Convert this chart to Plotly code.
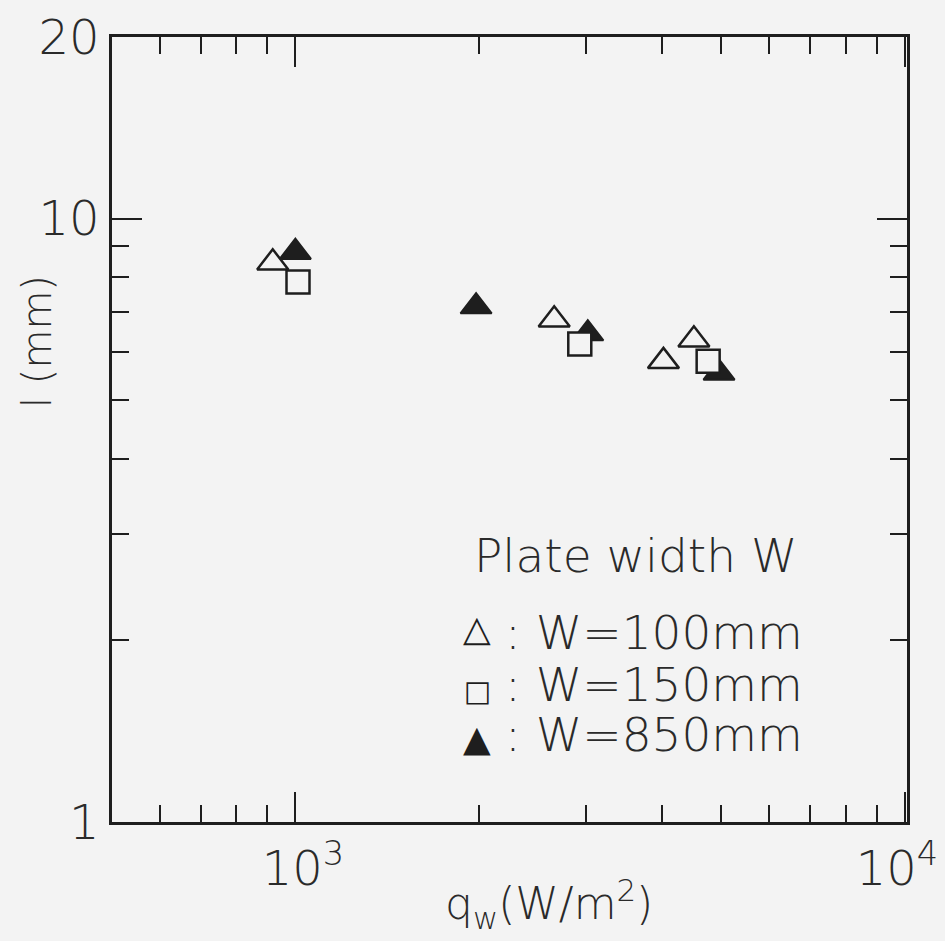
import plotly.graph_objects as go

# ---- data ----
series_names = ["W=100mm", "W=150mm", "W=850mm"]
qw_100 = [918, 2660, 4020, 4510]
l_100 = [8.45, 6.8, 5.8, 6.3]
qw_150 = [1010, 2930, 4760]
l_150 = [7.85, 6.2, 5.8]
qw_850 = [1000, 1980, 3020, 4960]
l_850 = [8.8, 7.15, 6.45, 5.55]

x_tickvals = [1000, 10000]
x_ticktext = ["&nbsp;10<sup>3</sup>", "10<sup>4</sup>&nbsp;"]
x_minor = [600, 700, 800, 900, 2000, 3000, 4000, 5000, 6000, 7000, 8000, 9000]
y_tickvals = [1, 10, 20]
y_ticktext = ["1", "10", "20"]
y_minor = [2, 3, 4, 5, 6, 7, 8, 9]
legend_title = "Plate width W"
legend_glyphs = ["△", "□", "▲"]

BG = "#f3f3f3"
INK = "#1e1e1e"
FONT = "DejaVu Sans"
WT = 200

fig = go.Figure()
fig.add_trace(go.Scatter(x=qw_850, y=l_850, mode="markers", name=series_names[2],
                         marker=dict(symbol="triangle-up", size=27, color=INK,
                                     line=dict(color=INK, width=2))))
fig.add_trace(go.Scatter(x=qw_100, y=l_100, mode="markers", name=series_names[0],
                         marker=dict(symbol="triangle-up", size=27, color=BG,
                                     line=dict(color=INK, width=2.5))))
fig.add_trace(go.Scatter(x=qw_150, y=l_150, mode="markers", name=series_names[1],
                         marker=dict(symbol="square", size=23, color=BG,
                                     line=dict(color=INK, width=2.5))))

axis_common = dict(showgrid=False, zeroline=False, showline=True, linecolor=INK,
                   linewidth=2.5, ticks="inside", tickcolor=INK, tickwidth=2,
                   mirror="ticks", ticklen=30, ticklabeloverflow="allow",
                   automargin=False,
                   tickfont=dict(family=FONT, size=48, color="#2a2a2a", weight=WT))

fig.update_xaxes(type="log", range=[2.699, 4.004], tickmode="array",
                 tickvals=x_tickvals, ticktext=x_ticktext, ticklabelstandoff=3,
                 minor=dict(tickvals=x_minor, ticks="inside", ticklen=17,
                            tickcolor=INK, tickwidth=2, showgrid=False),
                 **axis_common)
fig.update_yaxes(type="log", range=[0, 1.30103], tickmode="array",
                 tickvals=y_tickvals, ticktext=y_ticktext, ticklabelstandoff=0,
                 minor=dict(tickvals=y_minor, ticks="inside", ticklen=17,
                            tickcolor=INK, tickwidth=2, showgrid=False),
                 **axis_common)

L, R, T, B = 112, 38, 37, 119
W, H = 945, 941
pw, ph = W - L - R, H - T - B

def px(x):
    return (x - L) / pw

def py(y):
    return (H - B - y) / ph

txt = dict(family=FONT, color="#2a2a2a", weight=WT)
ann = []
ann.append(dict(text="q<sub>w</sub>(W/m<sup>2</sup>)", x=px(549), y=py(904),
                xref="paper", yref="paper", showarrow=False,
                xanchor="center", yanchor="middle", font=dict(size=44, **txt)))
ann.append(dict(text="l (mm)", x=px(37), y=py(342), textangle=-90,
                xref="paper", yref="paper", showarrow=False,
                xanchor="center", yanchor="middle", font=dict(size=40, **txt)))
ann.append(dict(text=legend_title, x=px(472), y=py(555),
                xref="paper", yref="paper", showarrow=False,
                xanchor="left", yanchor="middle", font=dict(size=47, **txt)))
row_y = [632, 684, 734]
glyph_y = [628, 691, 738]
glyph_size = [36, 29, 36]
for g, name, ty, gy, gs in zip(legend_glyphs, series_names, row_y, glyph_y, glyph_size):
    ann.append(dict(text=g, x=px(477), y=py(gy), xref="paper", yref="paper",
                    showarrow=False, xanchor="center", yanchor="middle",
                    font=dict(size=gs, family=FONT, color=INK)))
    ann.append(dict(text=": " + name, x=px(503), y=py(ty), xref="paper", yref="paper",
                    showarrow=False, xanchor="left", yanchor="middle",
                    font=dict(size=47, **txt)))

fig.update_layout(width=W, height=H, margin=dict(l=L, r=R, t=T, b=B),
                  paper_bgcolor=BG, plot_bgcolor=BG, showlegend=False,
                  annotations=ann)

fig.write_html("out.html", config={"displayModeBar": False},
               post_script="document.body.style.margin='0';document.body.style.overflow='hidden';")
